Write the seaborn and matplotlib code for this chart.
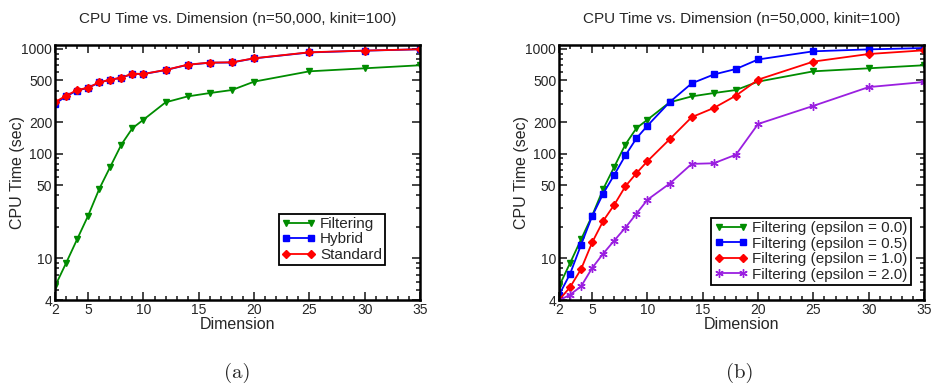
import numpy as np
import pandas as pd
import matplotlib
matplotlib.use("Agg")
import matplotlib.pyplot as plt
from matplotlib.ticker import FixedLocator, NullFormatter, MultipleLocator
import seaborn as sns

sns.set_style("ticks")
plt.rcParams['font.family'] = ['Liberation Sans', 'DejaVu Sans']

# Data
dims = [2, 3, 4, 5, 6, 7, 8, 9, 10, 12, 14, 16, 18, 20, 25, 30, 35]

filtering = [5.4, 9.0, 15.2, 25.6, 46, 75, 122, 175, 211, 309, 352, 379, 405, 487, 611, 653, 698]
hybrid = [300, 352, 400, 425, 478, 507, 530, 578, 575, 628, 705, 738, 742, 812, 925, 962, 992]
standard = [311, 357, 405, 427, 480, 509, 532, 581, 577, 630, 708, 740, 745, 814, 929, 964, 993]

eps_00 = filtering
eps_05 = [4.45, 7.1, 13.5, 25.3, 41.6, 62.8, 96, 140, 185, 310, 469, 570, 643, 793, 949, 990, 1020]
eps_10 = [4.0, 5.3, 7.9, 14.2, 22.8, 32.5, 48.7, 65, 84.8, 137, 223, 273, 358, 509, 757, 894, 970]
eps_20 = [3.95, 4.5, 5.4, 8.1, 11.1, 14.8, 19.6, 26.7, 36.3, 51.7, 79.8, 80.9, 97.8, 192, 286, 432, 483]

ytick_vals = [4, 10, 50, 100, 200, 500, 1000]
xtick_vals = [2, 5, 10, 15, 20, 25, 30, 35]

GREEN = '#008c00'
BLUE = '#0000ff'
RED = '#ff0000'
PURPLE = '#9a1fe0'
ASTER = (6, 2, 0)

fig = plt.figure(figsize=(9.32, 3.9), dpi=100)
ax1 = fig.add_axes([55 / 932, 90 / 390, 365 / 932, 255 / 390])
ax2 = fig.add_axes([559 / 932, 90 / 390, 365 / 932, 255 / 390])

left_series = [
    ('Filtering', filtering, GREEN, 'v'),
    ('Hybrid', hybrid, BLUE, 's'),
    ('Standard', standard, RED, 'D'),
]
right_series = [
    ('Filtering (epsilon = 0.0)', eps_00, GREEN, 'v'),
    ('Filtering (epsilon = 0.5)', eps_05, BLUE, 's'),
    ('Filtering (epsilon = 1.0)', eps_10, RED, 'D'),
    ('Filtering (epsilon = 2.0)', eps_20, PURPLE, ASTER),
]
marker_size = {'v': 5, 's': 4.3, 'D': 3.8, ASTER: 6}

for ax, series in [(ax1, left_series), (ax2, right_series)]:
    for name, vals, col, mk in series:
        sns.lineplot(x=dims, y=vals, ax=ax, color=col, marker=mk, markersize=marker_size[mk],
                     mec=col, mew=1.0, linewidth=1.3, label=name)

    ax.set_yscale('log')
    ax.set_xlim(2, 35)
    ax.set_ylim(4, 1090)
    ax.yaxis.set_major_locator(FixedLocator(ytick_vals))
    ax.set_yticklabels([str(v) for v in ytick_vals])
    minor = [v * d for d in [1, 10, 100] for v in range(2, 10)] + [5, 6, 7, 8, 9]
    ax.yaxis.set_minor_locator(FixedLocator(sorted(set(minor) - set(ytick_vals))))
    ax.yaxis.set_minor_formatter(NullFormatter())
    ax.xaxis.set_major_locator(FixedLocator(xtick_vals))
    ax.xaxis.set_minor_locator(MultipleLocator(1))
    ax.tick_params(which='both', direction='in', top=True, right=True, labelsize=10,
                   width=1.2, pad=2)
    ax.tick_params(which='major', length=6)
    ax.tick_params(which='minor', length=3)
    for sp in ax.spines.values():
        sp.set_linewidth(1.8)
        sp.set_color('black')
    ax.set_xlabel('Dimension', fontsize=11.5, labelpad=0)
    ax.set_ylabel('CPU Time (sec)', fontsize=11.5)
    ax.yaxis.set_label_coords(-0.082, 0.5)
    ax.set_title('CPU Time vs. Dimension (n=50,000, kinit=100)', fontsize=11, pad=16)

leg_kw = dict(loc='lower right', fontsize=11, numpoints=2, handlelength=2.2,
              handletextpad=0.3, labelspacing=0.1, borderpad=0.2, fancybox=False,
              framealpha=1, edgecolor='black', borderaxespad=0)
leg1 = ax1.legend(bbox_to_anchor=(0.904, 0.137), **leg_kw)
leg2 = ax2.legend(bbox_to_anchor=(0.964, 0.06), **leg_kw)
for leg in (leg1, leg2):
    leg.get_frame().set_linewidth(1.3)

fig.text(237 / 932, 1 - 373 / 390, '(a)', ha='center', va='center', fontsize=15, family='cmr10')
fig.text(740 / 932, 1 - 373 / 390, '(b)', ha='center', va='center', fontsize=15, family='cmr10')

fig.savefig('out.png', dpi=100)
